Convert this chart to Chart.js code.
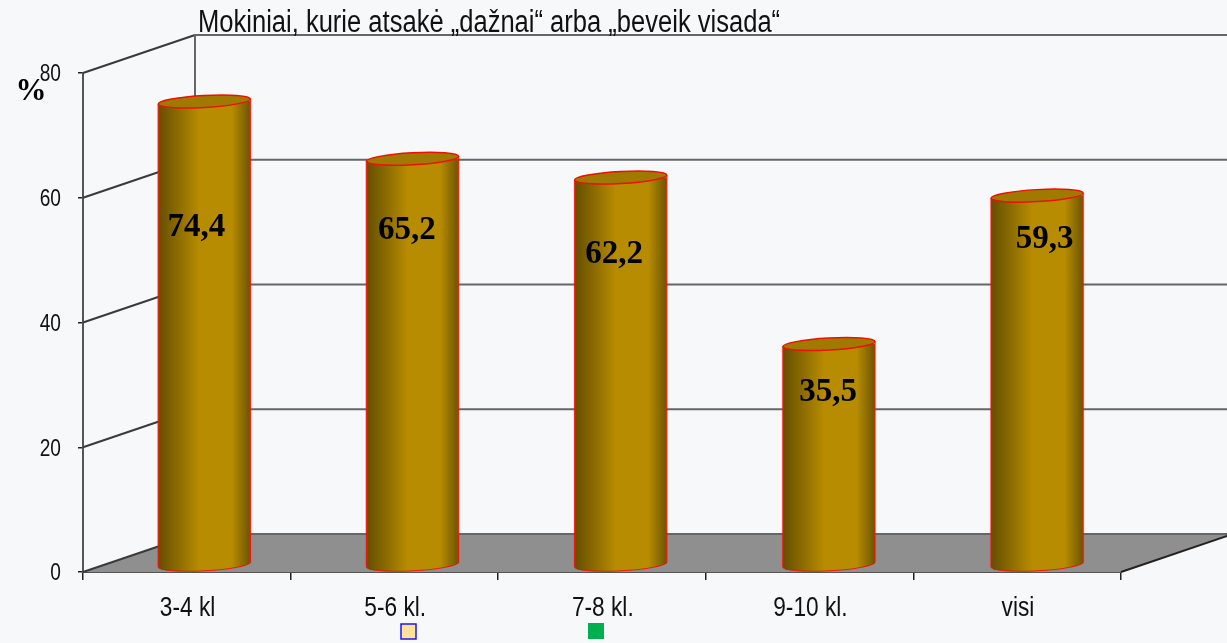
<!DOCTYPE html>
<html>
<head>
<meta charset="utf-8">
<style>html,body{margin:0;padding:0;background:#f7f8fa;overflow:hidden}canvas{display:block}</style>
<script src="https://cdn.jsdelivr.net/npm/chart.js@4"></script>
</head>
<body>
<div style="width:1227px;height:643px"><canvas id="c" width="1227" height="643"></canvas></div>
<script>
const categories = ["3-4 kl", "5-6 kl.", "7-8 kl.", "9-10 kl.", "visi"];
const values = [74.4, 65.2, 62.2, 35.5, 59.3];
const valueLabels = ["74,4", "65,2", "62,2", "35,5", "59,3"];
const yTicks = [0, 20, 40, 60, 80];
const titleText = "Mokiniai, kurie atsakė „dažnai“ arba „beveik visada“";
const unitText = "%";

const labelShiftX = [-8, -5, -5.5, 1, 10];
const labelShiftY = [126, 72, 77, 48, 44];
const depthX = 112, depthY = 38, barDX = 17.5, barDY = 6.5, barW = 92, capRy = 6, capTilt = -0.055, barStretch = 1.0029;
const sans = '"Liberation Sans",Arial,sans-serif';

function barGradient(c, x) {
  const g = c.createLinearGradient(x - barW / 2, 0, x + barW / 2, 0);
  g.addColorStop(0, "#644e00");
  g.addColorStop(0.45, "#b88c00");
  g.addColorStop(0.8, "#b88c00");
  g.addColorStop(1, "#6c5500");
  return g;
}

function squeezedText(c, text, x, y, sx) {
  c.save();
  c.translate(x, y);
  c.scale(sx, 1);
  c.fillText(text, 0, 0);
  c.restore();
}

const scene = {
  id: "scene",
  beforeDatasetsDraw(chart) {
    const c = chart.ctx, a = chart.chartArea, y = chart.scales.y;
    c.save();
    c.fillStyle = "#8f8f8f";
    c.beginPath();
    c.moveTo(a.left, a.bottom);
    c.lineTo(a.right, a.bottom);
    c.lineTo(a.right + depthX, a.bottom - depthY);
    c.lineTo(a.left + depthX, a.bottom - depthY);
    c.closePath();
    c.fill();
    yTicks.forEach(t => {
      const py = y.getPixelForValue(t);
      c.strokeStyle = "#666";
      c.lineWidth = 2;
      c.beginPath();
      c.moveTo(a.left + depthX, py - depthY);
      c.lineTo(a.right + depthX, py - depthY);
      c.stroke();
      c.strokeStyle = "#3a3a3a";
      c.lineWidth = 2;
      c.beginPath();
      c.moveTo(a.left, py);
      c.lineTo(a.left + depthX, py - depthY);
      c.stroke();
    });
    c.strokeStyle = "#666";
    c.lineWidth = 2;
    c.beginPath();
    c.moveTo(a.left + depthX, y.getPixelForValue(80) - depthY);
    c.lineTo(a.left + depthX, y.getPixelForValue(0) - depthY);
    c.stroke();
    c.strokeStyle = "#222";
    c.lineWidth = 2;
    c.beginPath();
    c.moveTo(a.right, a.bottom);
    c.lineTo(a.right + depthX, a.bottom - depthY);
    c.stroke();
    c.restore();

    // bars are drawn by the library, shifted into the depth of the scene
    const bars = chart.getDatasetMeta(0).data;
    const x0 = bars[0].x;
    const halfDrop = barW / 2 * Math.sin(-capTilt);
    c.save();
    c.translate(x0 + barDX, -barDY);
    c.scale(barStretch, 1);
    c.translate(-x0, 0);
    bars.forEach(b => {
      // rounded foot of the cylinder, joined to the library's bar
      c.fillStyle = barGradient(c, b.x);
      c.beginPath();
      c.moveTo(b.x - b.width / 2, b.base - 6);
      c.lineTo(b.x + b.width / 2, b.base - 6);
      c.lineTo(b.x + b.width / 2, b.base - halfDrop);
      c.ellipse(b.x, b.base, b.width / 2, capRy, capTilt, 0, Math.PI);
      c.closePath();
      c.fill();
      c.strokeStyle = "rgba(255,0,0,.8)";
      c.lineWidth = 1;
      c.beginPath();
      c.ellipse(b.x, b.base, b.width / 2, capRy, capTilt, 0, Math.PI);
      c.stroke();
    });
    c.save();
    c.beginPath();
    bars.forEach(b => {
      c.moveTo(b.x - b.width / 2, b.y + halfDrop);
      c.lineTo(b.x + b.width / 2, b.y - halfDrop);
      c.lineTo(b.x + b.width / 2, b.base - halfDrop);
      c.lineTo(b.x - b.width / 2, b.base + halfDrop);
      c.closePath();
    });
    c.clip();
  },
  afterDatasetsDraw(chart) {
    const c = chart.ctx;
    const bars = chart.getDatasetMeta(0).data;
    const halfDrop = barW / 2 * Math.sin(-capTilt);
    c.restore();
    bars.forEach(b => {
      [[2.5, "rgba(255,60,40,.22)"], [1, "rgba(255,0,0,.8)"]].forEach(([w, col]) => {
        c.strokeStyle = col;
        c.lineWidth = w;
        c.beginPath();
        c.moveTo(b.x - b.width / 2, b.y + halfDrop);
        c.lineTo(b.x - b.width / 2, b.base + halfDrop);
        c.moveTo(b.x + b.width / 2, b.y - halfDrop);
        c.lineTo(b.x + b.width / 2, b.base - halfDrop);
        c.stroke();
      });
      c.fillStyle = "#a07a00";
      c.strokeStyle = "#f01000";
      c.lineWidth = 1.5;
      c.beginPath();
      c.ellipse(b.x, b.y, b.width / 2, capRy, capTilt, 0, Math.PI * 2);
      c.fill();
      c.stroke();
    });
    c.restore();

    // value labels
    c.save();
    c.fillStyle = "#000";
    c.font = 'bold 33px "Liberation Serif","Times New Roman",serif';
    c.textAlign = "center";
    c.textBaseline = "middle";
    bars.forEach((b, i) => {
      c.fillText(valueLabels[i], b.x + barDX + labelShiftX[i], b.y - barDY + labelShiftY[i]);
    });
    c.font = 'bold 31px "Liberation Serif","Times New Roman",serif';
    c.fillText(unitText, 31, 92);

    // title and axis labels (condensed type)
    c.fillStyle = "#111";
    c.font = "31px " + sans;
    c.textAlign = "left";
    c.textBaseline = "alphabetic";
    squeezedText(c, titleText, 198, 32, 0.824);

    const xs = chart.scales.x, ys = chart.scales.y;
    c.font = "28px " + sans;
    c.textAlign = "center";
    c.textBaseline = "middle";
    categories.forEach((t, i) => squeezedText(c, t, xs.getPixelForValue(i) + 0.8, 608, 0.81));
    c.font = "24.5px " + sans;
    c.textAlign = "right";
    yTicks.forEach(t => squeezedText(c, String(t), 61, ys.getPixelForValue(t) + 1.5, 0.78));

    // unlabeled legend keys
    c.fillStyle = "#ffe199";
    c.strokeStyle = "#1a1aee";
    c.lineWidth = 1.5;
    c.fillRect(401, 624, 15, 15);
    c.strokeRect(401, 624, 15, 15);
    c.fillStyle = "#00b050";
    c.fillRect(588, 623, 16, 16);
    c.restore();
  }
};

new Chart(document.getElementById("c"), {
  type: "bar",
  data: {
    labels: categories,
    datasets: [{
      data: values,
      barThickness: barW,
      borderWidth: 0,
      clip: false,
      backgroundColor: ctx => {
        const x = ctx.chart.scales.x ? ctx.chart.scales.x.getPixelForValue(ctx.dataIndex) : NaN;
        return Number.isFinite(x) ? barGradient(ctx.chart.ctx, x) : "#b88c00";
      }
    }]
  },
  plugins: [scene],
  options: {
    responsive: false,
    animation: false,
    layout: { padding: { top: 73, right: 106, bottom: 0, left: 0 } },
    plugins: { legend: { display: false }, tooltip: { enabled: false }, title: { display: false } },
    scales: {
      x: {
        afterFit: s => { s.height = 71; },
        grid: { offset: true, drawOnChartArea: false, drawTicks: true, tickLength: 8, color: "#222", lineWidth: 1.5 },
        border: { color: "#555", width: 2 },
        ticks: { display: false }
      },
      y: {
        min: 0,
        max: 80,
        afterFit: s => { s.width = 83; },
        afterBuildTicks: s => { s.ticks = yTicks.map(v => ({ value: v })); },
        grid: { drawOnChartArea: false, drawTicks: true, tickLength: 5, color: "#222", lineWidth: 1.5 },
        border: { color: "#555", width: 2 },
        ticks: { display: false }
      }
    }
  }
});
</script>
</body>
</html>
